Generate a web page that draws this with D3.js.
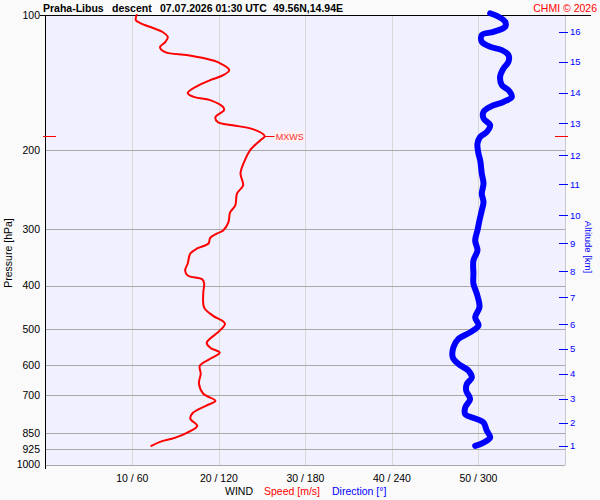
<!DOCTYPE html>
<html><head><meta charset="utf-8">
<script src="https://cdn.jsdelivr.net/npm/d3@7"></script>
<style>html,body{margin:0;padding:0;background:#fafafa;}svg{display:block;font-family:"Liberation Sans",Arial,sans-serif;}</style>
</head><body>
<svg id="c" width="600" height="500"></svg>
<script>
// ---- data ----
const pressureTicks = [100, 200, 300, 400, 500, 600, 700, 850, 925, 1000];
const speedTicks = [10, 20, 30, 40, 50];
const speedTickLabels = ["10 / 60", "20 / 120", "30 / 180", "40 / 240", "50 / 300"];
const altKm = [1, 2, 3, 4, 5, 6, 7, 8, 9, 10, 11, 12, 13, 14, 15, 16];
const altP = [909, 808, 714, 628, 552, 488, 425, 372, 322, 279, 238, 205, 174, 149, 127, 109];
const mxwsP = 186;
const mxwsSpeed = 25.3;

const speedP = [100,102.6,104.2,106.9,109.1,112,114.9,117.9,120.9,122.8,124.7,127.9,132.6,136.1,139.6,143.9,149.2,152.3,154.7,160.4,162.8,168.8,173.2,175.9,179.6,186.1,189.9,200,210.5,225,239.3,249.4,265.2,274.9,289.3,301.5,306.2,313.3,322.3,330.7,339.3,357.2,370.2,379.8,387.7,395.7,414.5,447.6,466.4,486,503.8,535.8,549.7,564,581.7,603,628.1,661.2,696,721.5,740.2,767.3,791.3,820.2,850.2,872.4,890.5,909];
const speedV = [10.5,10.4,10.9,12.4,13.5,14.1,13.8,13.2,13.8,16.3,18.2,20.1,21.2,20.5,19.0,17.5,16.4,17.2,19.0,20.5,20.6,19.6,19.9,21.6,24.0,25.3,24.8,23.6,23.0,22.5,22.8,22.1,21.9,21.3,21.1,20.5,19.8,19.0,18.8,17.5,16.7,16.4,16.1,16.4,18.1,18.3,18.2,18.3,19.3,20.7,20.1,18.6,19.0,20.1,19.0,17.8,17.9,17.7,18.2,19.6,18.5,17.0,16.7,17.5,16.3,14.9,13.2,12.2];

const dirP = [99.1,100.9,103.5,106.2,109,110.8,114.7,117.7,119.7,122.8,127.1,131.5,137.2,143.2,146.9,152.1,156.1,160.1,164.3,169.9,175.9,182,186.7,193.2,203.4,210.5,225.4,237.2,249.7,260.8,272,286.4,301.5,317.4,334.2,351.7,376.5,396.3,417.3,446.8,470.4,490.9,508.2,525.7,548.9,577.8,597.6,618.5,640.3,662.3,685.5,715.2,746.7,772.4,792.5,806.5,841.5,871,893.7,909];
const dirV = [308.1,313.9,318.5,318.5,310.4,302.3,302.3,308.1,316.2,320.8,320.8,317.3,315.0,316.2,320.8,323.1,317.3,308.1,303.5,303.5,308.1,305.8,301.2,299.3,300.0,301.2,302.3,303.5,302.3,303.5,302.3,300.7,299.3,297.7,299.3,296.5,296.5,296.5,298.9,300.7,297.7,300.0,294.2,286.1,282.6,282.2,286.1,293.1,295.4,291.9,291.5,294.2,290.8,290.8,298.9,303.5,305.8,308.1,303.5,297.7];

// ---- layout ----
const L = 45, R = 565, T = 15, B = 464.5;
const FS = 10.5;
const svg = d3.select("#c");
const y = d3.scaleLog().domain([100, 1000]).range([T, B]);
const xs = d3.scaleLinear().domain([0, 60]).range([L + 0.8, R]);
const xd = d3.scaleLinear().domain([0, 360]).range([L + 0.8, R]);

svg.append("rect").attr("x", L).attr("y", T).attr("width", R - L).attr("height", 465 - T).attr("fill", "#f0f0ff");

// vertical grid
svg.append("g").selectAll("line").data(speedTicks).join("line")
  .attr("x1", d => Math.round(xs(d)) + 0.5).attr("x2", d => Math.round(xs(d)) + 0.5)
  .attr("y1", T).attr("y2", 465).attr("stroke", "#d8d8d8").attr("stroke-width", 1);
// horizontal grid
svg.append("g").selectAll("line").data(pressureTicks.slice(1)).join("line")
  .attr("x1", L).attr("x2", R)
  .attr("y1", d => Math.round(y(d)) + 0.5).attr("y2", d => Math.round(y(d)) + 0.5)
  .attr("stroke", "#a8a8a8").attr("stroke-width", 1);
svg.append("line").attr("x1", L).attr("x2", R).attr("y1", 465.5).attr("y2", 465.5).attr("stroke", "#a8a8a8");
svg.append("line").attr("x1", R + 0.5).attr("x2", R + 0.5).attr("y1", T).attr("y2", 465).attr("stroke", "#c8c8c8");
svg.append("line").attr("x1", L + 0.5).attr("x2", L + 0.5).attr("y1", T).attr("y2", 469).attr("stroke", "#000");
svg.append("line").attr("x1", 40).attr("x2", 591).attr("y1", T + 0.5).attr("y2", T + 0.5).attr("stroke", "#000");

// pressure labels
svg.append("g").selectAll("text").data(pressureTicks).join("text")
  .attr("x", 40).attr("y", d => y(d)).attr("dy", "0.36em").attr("text-anchor", "end")
  .attr("font-size", FS).attr("fill", "#000").text(d => d);
svg.append("text").attr("transform", "translate(12,253) rotate(-90)").attr("text-anchor", "middle")
  .attr("font-size", FS).attr("fill", "#000").text("Pressure [hPa]");

// bottom tick labels
svg.append("g").selectAll("text").data(speedTicks).join("text")
  .attr("x", d => xs(d)).attr("y", 482).attr("text-anchor", "middle")
  .attr("font-size", FS).attr("fill", "#000").text((d, i) => speedTickLabels[i]);
const leg = svg.append("text").attr("y", 495).attr("font-size", FS);
leg.append("tspan").attr("x", 225).attr("fill", "#000").text("WIND");
leg.append("tspan").attr("x", 264).attr("fill", "#ff0000").text("Speed [m/s]");
leg.append("tspan").attr("x", 332).attr("fill", "#0000ff").text("Direction [°]");

// right altitude axis
const ag = svg.append("g");
ag.selectAll("line").data(altKm).join("line")
  .attr("x1", 559).attr("x2", 568).attr("y1", (d, i) => Math.round(y(altP[i])) + 0.5).attr("y2", (d, i) => Math.round(y(altP[i])) + 0.5)
  .attr("stroke", "#0000ff").attr("stroke-width", 1);
ag.selectAll("text").data(altKm).join("text")
  .attr("x", 570).attr("y", (d, i) => y(altP[i])).attr("dy", "0.36em")
  .attr("font-size", 9.5).attr("fill", "#0000ff").text(d => d);
svg.append("text").attr("transform", "translate(585,247) rotate(90)").attr("text-anchor", "middle")
  .attr("font-size", 9.5).attr("fill", "#0000ff").text("Altitude [km]");

// title
const tt = svg.append("g").attr("font-size", FS).attr("font-weight", "bold").attr("fill", "#000");
tt.append("text").attr("x", 43).attr("y", 11.5).text("Praha-Libus");
tt.append("text").attr("x", 112).attr("y", 11.5).text("descent");
tt.append("text").attr("x", 160).attr("y", 11.5).text("07.07.2026 01:30 UTC");
tt.append("text").attr("x", 273).attr("y", 11.5).text("49.56N,14.94E");
svg.append("text").attr("x", 597).attr("y", 11.5).attr("text-anchor", "end").attr("font-size", FS)
  .attr("fill", "#ff0000").text("CHMI © 2026");

// lines
const sp = speedP.map((p, i) => [p, speedV[i]]);
const dp = dirP.map((p, i) => [p, dirV[i]]);
svg.append("path").datum(dp)
  .attr("d", d3.line().x(d => xd(d[1])).y(d => y(d[0])).curve(d3.curveCatmullRom))
  .attr("fill", "none").attr("stroke", "#0000ff").attr("stroke-width", 6)
  .attr("stroke-linejoin", "round").attr("stroke-linecap", "round");
svg.append("path").datum(sp)
  .attr("d", d3.line().x(d => xs(d[1])).y(d => y(d[0])).curve(d3.curveCatmullRom))
  .attr("fill", "none").attr("stroke", "#ff0000").attr("stroke-width", 2)
  .attr("stroke-linejoin", "round").attr("stroke-linecap", "round");

// MXWS markers
const my = Math.round(y(mxwsP)) + 0.5;
svg.append("line").attr("x1", 43).attr("x2", 56).attr("y1", my).attr("y2", my).attr("stroke", "#ff0000");
svg.append("line").attr("x1", 555).attr("x2", 568).attr("y1", my).attr("y2", my).attr("stroke", "#ff0000");
svg.append("line").attr("x1", xs(mxwsSpeed)).attr("x2", xs(mxwsSpeed) + 10).attr("y1", my).attr("y2", my).attr("stroke", "#ff0000");
svg.append("rect").attr("x", xs(mxwsSpeed) + 10).attr("y", my - 5.5).attr("width", 30).attr("height", 11).attr("fill", "#fff0f4");
svg.append("text").attr("x", xs(mxwsSpeed) + 11).attr("y", my).attr("dy", "0.36em")
  .attr("font-size", 9).attr("fill", "#ff3030").text("MXWS");
</script>
</body></html>
